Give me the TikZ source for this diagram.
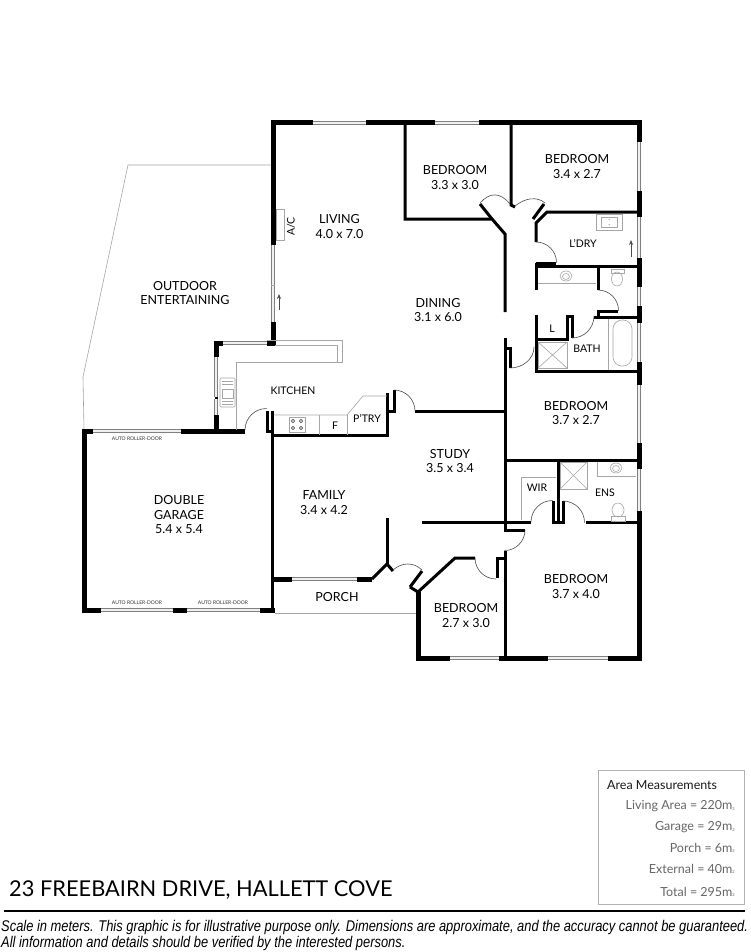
\documentclass[tikz,border=0pt]{standalone}
\usepackage{fontspec}
\usetikzlibrary{arrows.meta}
\setmainfont{Lato}
\newfontfamily\discfont[Scale=1]{Liberation Sans}
\tikzset{
  ext/.style={line width=5pt,black,line cap=butt,line join=miter},
  wall/.style={line width=3pt,black,line cap=butt,line join=miter},
  win/.style={draw=black!50,line width=.7pt,double=black!6,double distance=2.6pt},
  fixt/.style={draw=black!35,line width=.6pt},
  doorarc/.style={draw=black!70,line width=.6pt},
  lab/.style={font=\fontsize{12.5}{14.5}\selectfont,align=center,inner sep=0pt,text=black,yshift=-1pt},
  slab/.style={font=\fontsize{10.5}{12}\selectfont,align=center,inner sep=0pt,text=black,yshift=-.5pt},
  tiny/.style={font=\fontsize{5}{6}\selectfont,inner sep=0pt,text=black!80},
  area/.style={font=\fontsize{12.5}{14}\selectfont\color{black!60},anchor=east,inner sep=0pt}
}
\newcommand{\msq}{m\raisebox{-.1ex}{\fontsize{4}{4}\selectfont 2}}
\begin{document}
\begin{tikzpicture}[x=1pt,y=-1pt]
\useasboundingbox (0,0) rectangle (750,952);
\fill[white] (0,0) rectangle (750,952);
% outdoor & porch outlines
\draw[fixt] (84,430) -- (83,377) -- (128,165) -- (271,165);
\draw[fixt] (275,613) -- (417,613);
% windows
\draw[win] (313,123) -- (366,123);
\draw[win] (435,123) -- (479,123);
\draw[win] (639,142) -- (639,191);
\draw[win] (639,217) -- (639,258);
\draw[win] (639,287) -- (639,306);
\draw[win] (639,323) -- (639,362);
\draw[win] (639,385) -- (639,443);
\draw[win] (639,469) -- (639,511);
\draw[win] (450,658) -- (499,658);
\draw[win] (548,658) -- (608,658);
\draw[win] (273,245) -- (273,322);
\draw[win] (223,343) -- (267,343);
\draw[win] (216,357) -- (216,397);
\draw[win] (216,399) -- (216,415);
\draw[win] (93,431) -- (181,431);
\draw[win] (101,610) -- (173,610);
\draw[win] (187,610) -- (260,610);
\draw[win] (292,579) -- (357,579);
% exterior walls
\draw[ext] (273,245) -- (273,123) -- (313,123);
\draw[ext] (366,123) -- (435,123);
\draw[ext] (479,123) -- (639,123) -- (639,142);
\draw[ext] (639,191) -- (639,217);
\draw[ext] (639,258) -- (639,287);
\draw[ext] (639,306) -- (639,323);
\draw[ext] (639,362) -- (639,385);
\draw[ext] (639,443) -- (639,469);
\draw[ext] (639,511) -- (639,658) -- (608,658);
\draw[ext] (548,658) -- (499,658);
\draw[ext] (450,658) -- (418,658) -- (418,592);
\draw[ext] (273,322) -- (273,345);
\draw[ext] (267,343) -- (275,343);
\draw[ext] (223,343) -- (216,343) -- (216,357);
\draw[ext] (216,415) -- (216,430);
\draw[wall] (216,397) -- (216,399);
\draw[ext] (93,431) -- (84,431) -- (84,610) -- (101,610);
\draw[ext] (173,610) -- (187,610);
\draw[ext] (260,610) -- (275,610);
\draw[ext] (181,431) -- (245,431);
\draw[ext] (273,579) -- (292,579);
\draw[ext] (357,579) -- (372,579);
% interior walls
\draw[wall] (272.5,411) -- (272.5,610);
\draw[wall] (267,411) -- (267,431) -- (272,431);
\draw[wall] (273,435) -- (387,435) -- (387,393);
\draw[wall] (394,390) -- (394,411) -- (387,411);
\draw[wall] (415,411) -- (505,411);
\draw[wall] (405,123) -- (405,219) -- (492,219) -- (505,234) -- (505,312);
\draw[wall] (505,338) -- (505,530) -- (525,530);
\draw[wall] (505,348) -- (510,348) -- (510,368);
\draw[wall] (511,123) -- (511,205) -- (515,207);
\draw[wall] (492,219) -- (480,204);
\draw[wall] (639,212) -- (547,212) -- (536,223) -- (536,242);
\draw[wall] (544,204) -- (533,219);
\draw[wall] (536,263) -- (556,263);
\draw[wall] (536,263) -- (536,290);
\draw[wall] (536,266.5) -- (639,266.5);
\draw[wall] (598,266) -- (598,290);
\draw[wall] (598,311) -- (618,311);
\draw[wall] (598,310) -- (598,317);
\draw[wall] (594,317) -- (639,317);
\draw[wall] (536,315) -- (536,371) -- (639,371);
\draw[wall] (536,339) -- (567,339) -- (567,315);
\draw[wall] (566,316) -- (572,316) -- (572,338);
\draw[wall] (505,460) -- (639,460);
\draw[wall] (558,460) -- (558,522);
\draw[wall] (422,522) -- (531,522);
\draw[wall] (553,501) -- (553,522) -- (563,522) -- (563,501);
\draw[wall] (586,522) -- (639,522);
\draw[wall] (505,551) -- (505,658);
\draw[wall] (497,578) -- (497,558) -- (505,558);
\draw[wall] (475,558) -- (455,558) -- (418,592);
\draw[wall] (410,587) -- (418,592);
\draw[wall] (410,587) -- (422,571);
\draw[wall] (387,518) -- (387,564);
\draw[wall] (372,579) -- (387,564) -- (393,571);
% doors
\draw[doorarc] (480,203) .. controls (490,192) and (500,192) .. (510,204);
\draw[doorarc] (515,206) .. controls (525,198) and (537,196) .. (545,203);
\draw[doorarc] (536,242) arc[start angle=-90,end angle=0,radius=20.5];
\draw[doorarc] (598,290) arc[start angle=-90,end angle=0,radius=20.5];
\draw[doorarc] (572,338) arc[start angle=90,end angle=0,radius=22];
\draw[doorarc] (510,368) arc[start angle=90,end angle=0,x radius=24,y radius=21];
\draw[doorarc] (525,530) arc[start angle=0,end angle=90,radius=20.5];
\draw[doorarc] (531,522) arc[start angle=180,end angle=270,radius=21.5];
\draw[doorarc] (563,501) arc[start angle=-90,end angle=0,radius=21.5];
\draw[doorarc] (475,558) arc[start angle=180,end angle=90,radius=21];
\draw[doorarc] (415,411) arc[start angle=0,end angle=-90,radius=21];
\draw[doorarc] (245,430) arc[start angle=180,end angle=270,radius=21.5];
\draw[doorarc] (393,570) .. controls (402,562) and (414,562) .. (422,570);
% kitchen fixtures
\draw[fixt] (267,340) -- (342,340) -- (342,362) -- (236,362) -- (236,430);
\draw[fixt] (275,345) -- (337,345) -- (337,362);
\draw[fixt] (274,415) -- (347,415) -- (363,396) -- (387,396);
\draw[fixt] (319,415) -- (319,435);
\draw[fixt] (347,415) -- (347,435);
\draw[fixt,rounded corners=1pt] (220,378) rectangle (235,407);
\draw[fixt] (222,389) rectangle (233,398);
\draw[fixt] (222,381) -- (233,381) (222,384) -- (233,384) (222,401) -- (233,401) (222,404) -- (233,404);
\draw[fixt] (289,417) rectangle (305,432);
\foreach \cx/\cy in {293/421,301/421,293/428,301/428}{
  \draw[black!70,line width=.6pt] (\cx,\cy) circle[radius=1.7];
  \fill[black!70] (\cx,\cy) circle[radius=.6];
}
% living
\draw[fixt] (276,209) rectangle (284,240);
\draw[fixt] (271,285) -- (275,285);
\draw[black!70,line width=.6pt,-{Stealth[length=5pt,width=4pt]}] (279,310) -- (279,294);
% laundry
\draw[fixt] (596,214) rectangle (622,230);
\draw[fixt] (601,217) rectangle (617,227);
\fill[black!60] (609,219.5) circle[radius=.5] (609,224.5) circle[radius=.5];
\draw[black!70,line width=.6pt,-{Stealth[length=5pt,width=4pt]}] (631,257) -- (631,240);
% bathroom
\draw[fixt] (538,283) -- (596,283);
\draw[fixt] (566,276) ellipse[x radius=6,y radius=5];
\draw[fixt] (566,276.5) ellipse[x radius=3.5,y radius=3];
\draw[fixt] (611,269) rectangle (624,273);
\draw[fixt] (617,279) ellipse[x radius=5.5,y radius=7];
\draw[fixt] (538,342) rectangle (567,368);
\draw[fixt] (538,342) -- (567,368) (538,368) -- (567,342);
\draw[fixt] (608,319) -- (608,370);
\draw[fixt,rounded corners=9pt] (613,320) rectangle (632,366);
% ensuite, wir
\draw[fixt] (521,520) -- (521,477) -- (556,477);
\draw[fixt] (560,462) rectangle (587,489);
\draw[fixt] (560,462) -- (587,489) (560,489) -- (587,462);
\draw[fixt] (597,462) -- (597,476) -- (636,476);
\draw[fixt] (616,468) ellipse[x radius=6,y radius=5];
\draw[fixt] (616,468.5) ellipse[x radius=3.5,y radius=3];
\draw[fixt] (618,510) ellipse[x radius=6,y radius=7];
\draw[fixt] (611,516) rectangle (625,521);
% labels
\node[lab] (outdoor) at (185,292) {OUTDOOR\\ENTERTAINING};
\node[lab] (living) at (339.5,225.5) {LIVING\\4.0 x 7.0};
\node[lab] (dining) at (438,309) {DINING\\3.1 x 6.0};
\node[lab] (bed1) at (455,176.5) {BEDROOM\\3.3 x 3.0};
\node[lab] (bed2) at (577,165.5) {BEDROOM\\3.4 x 2.7};
\node[lab] (bed3) at (576,412) {BEDROOM\\3.7 x 2.7};
\node[lab] (bed4) at (576,585.5) {BEDROOM\\3.7 x 4.0};
\node[lab] (bed5) at (466,614.5) {BEDROOM\\2.7 x 3.0};
\node[lab] (study) at (450,460) {STUDY\\3.5 x 3.4};
\node[lab] (family) at (324,501.5) {FAMILY\\3.4 x 4.2};
\node[lab] (garage) at (179,514) {DOUBLE\\GARAGE\\5.4 x 5.4};
\node[lab] (porch) at (337,596) {PORCH};
\node[slab] (kitchen) at (293,390) {KITCHEN};
\node[slab] (ptry) at (367,418) {P’TRY};
\node[slab] (f) at (335,425) {F};
\node[slab] (ldry) at (583,243) {L’DRY};
\node[slab] (l) at (552,328) {L};
\node[slab] (bath) at (587,348) {BATH};
\node[slab] (wir) at (537,487) {WIR};
\node[slab] (ens) at (605,492) {ENS};
\node[slab,rotate=90] (ac) at (291,226) {A/C};
\node[tiny] (ard1) at (137,439) {AUTO ROLLER-DOOR};
\node[tiny] (ard2) at (137,603) {AUTO ROLLER-DOOR};
\node[tiny] (ard3) at (223,603) {AUTO ROLLER-DOOR};
% title
\node[anchor=base west,inner sep=0pt,font=\fontsize{21.8}{26}\selectfont] (title) at (9,896) {23 FREEBAIRN DRIVE, HALLETT COVE};
\draw[black,line width=1.2pt] (4,911) -- (745,911);
% area box
\draw[black!30,line width=.8pt] (598,770) rectangle (744,904);
\node[anchor=base west,inner sep=0pt,font=\fontsize{12.5}{14}\selectfont,text=black!90] (areah) at (607,789) {Area Measurements};
\node[area] (a1) at (735,806) {Living Area = 220\msq};
\node[area] (a2) at (735,827) {Garage = 29\msq};
\node[area] (a3) at (735,848) {Porch = 6\msq};
\node[area] (a4) at (735,869) {External = 40\msq};
\node[area] (a5) at (735,892) {Total = 295\msq};
% disclaimer
\node[anchor=base west,inner sep=0pt] (d1) at (1,931) {\discfont\itshape\fontsize{15.5}{17}\selectfont\scalebox{.832}[1]{Scale in meters. This graphic is for illustrative purpose only. Dimensions are approximate, and the accuracy cannot be guaranteed.}};
\node[anchor=base west,inner sep=0pt] (d2) at (1,947) {\discfont\itshape\fontsize{15.5}{17}\selectfont\scalebox{.832}[1]{All information and details should be verified by the interested persons.}};
\end{tikzpicture}
\end{document}
